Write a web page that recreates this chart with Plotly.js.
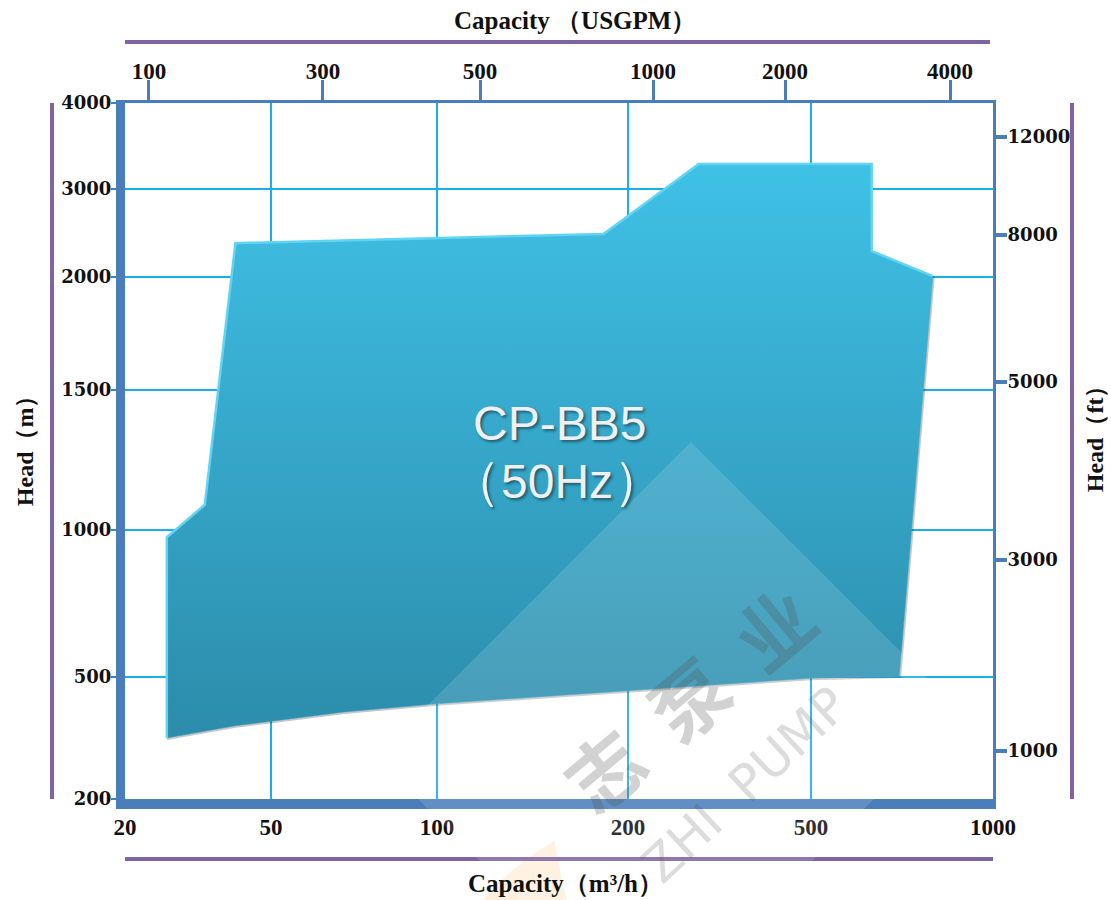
<!DOCTYPE html>
<html><head><meta charset="utf-8">
<script src="https://cdn.plot.ly/plotly-3.0.1.min.js"></script>
<style>html,body{margin:0;padding:0;background:#fff;}#chart{width:1111px;height:900px;}</style>
</head><body><div id="chart"></div>
<script>
// Bottom axis: capacity (m3/h) and where each tick sits along the (non-uniform) axis, 0..1
const capTicks = [20, 50, 100, 200, 500, 1000];
const capTickPos = [0, 0.1682, 0.3594, 0.5795, 0.7903, 1];
// Left axis: head (m)
const headTicks = [200, 500, 1000, 1500, 2000, 3000, 4000];
const headTickPos = [0, 0.1753, 0.3865, 0.5876, 0.75, 0.8764, 1];
// Top axis: capacity (USGPM)
const usgpmTicks = [100, 300, 500, 1000, 2000, 4000];
const usgpmTickPos = [0.0276, 0.2281, 0.409, 0.6083, 0.7604, 0.9505];
// Right axis: head (ft)
const ftTicks = [1000, 3000, 5000, 8000, 12000];
const ftTickPos = [0.069, 0.3434, 0.5991, 0.8103, 0.9511];

// CP-BB5 (50Hz) operating envelope
const envCapacity = [26, 26, 33, 40, 183, 285, 630, 630, 795, 700, 500, 200, 100, 68, 40, 26];
const envHead     = [350, 975, 1090, 2385, 2490, 3290, 3290, 2295, 2010, 503, 497, 466, 434, 414, 380, 350];

function piecewise(v, ticks, pos, logInterp) {
  for (let i = 0; i < ticks.length - 1; i++) {
    if (v <= ticks[i + 1] || i === ticks.length - 2) {
      const t = logInterp ? Math.log(v / ticks[i]) / Math.log(ticks[i + 1] / ticks[i])
                          : (v - ticks[i]) / (ticks[i + 1] - ticks[i]);
      return pos[i] + t * (pos[i + 1] - pos[i]);
    }
  }
}
const fx = v => piecewise(v, capTicks, capTickPos, true);
const fy = v => piecewise(v, headTicks, headTickPos, false);

const X = envCapacity.map(fx);
const Y = envHead.map(fy);

const axisBlue = '#4a7ebb';
const gridCyan = '#18afea';
const purple = '#8064a2';

const traces = [
  // soft shadow along lower / right edges
  { x: X.slice(8), y: Y.slice(8), mode: 'lines', line: { color: 'rgba(0,0,0,0.22)', width: 4 }, hoverinfo: 'skip' },
  { x: X, y: Y, mode: 'lines', fill: 'toself',
    fillgradient: { type: 'vertical', colorscale: [[0, '#2c8cab'], [1, '#3fc1e6']] },
    line: { color: '#33a6c9', width: 0.5 }, hoverinfo: 'skip' },
  // light bevel on the upper edges
  { x: X.slice(0, 9), y: Y.slice(0, 9), mode: 'lines', line: { color: '#62d4f3', width: 2.5 }, hoverinfo: 'skip' },
  { x: [], y: [], xaxis: 'x2', yaxis: 'y2', mode: 'lines', hoverinfo: 'skip' }
];

const serifB = (size, fam) => ({ family: fam || 'Liberation Serif', size: size, color: '#111', weight: 'bold' });
const ann = (text, x, y, font, extra) => Object.assign({ text, x, y, xref: 'paper', yref: 'paper',
  xanchor: 'center', yanchor: 'middle', showarrow: false, font }, extra || {});

const layout = {
  width: 1111, height: 900,
  margin: { l: 125, r: 118, t: 103, b: 101 },
  paper_bgcolor: '#ffffff', plot_bgcolor: '#ffffff',
  showlegend: false,
  xaxis: {
    range: [0, 1], tickvals: capTicks.map(fx), ticktext: capTicks.map(String),
    showgrid: true, gridcolor: gridCyan, gridwidth: 2, zeroline: false,
    showline: true, linecolor: axisBlue, linewidth: 10, ticks: '',
    tickfont: serifB(23), ticklabelstandoff: -2, fixedrange: true
  },
  yaxis: {
    range: [0, 1], tickvals: headTicks.map(fy), ticktext: headTicks.map(String),
    showgrid: true, gridcolor: gridCyan, gridwidth: 2, zeroline: false,
    showline: true, linecolor: axisBlue, linewidth: 9,
    ticks: 'outside', ticklen: 5, tickwidth: 2, tickcolor: axisBlue,
    tickfont: serifB(18, 'DejaVu Serif'), ticklabelstandoff: -4, fixedrange: true
  },
  xaxis2: {
    overlaying: 'x', side: 'top', anchor: 'y', range: [0, 1],
    tickvals: usgpmTickPos, ticktext: usgpmTicks.map(String),
    showgrid: false, zeroline: false, showline: true, linecolor: axisBlue, linewidth: 3,
    ticks: 'outside', ticklen: 20, tickwidth: 3, tickcolor: axisBlue,
    tickfont: serifB(23), ticklabelstandoff: -8, fixedrange: true
  },
  yaxis2: {
    overlaying: 'y', side: 'right', anchor: 'x', range: [0, 1],
    tickvals: ftTickPos, ticktext: ftTicks.map(String),
    showgrid: false, zeroline: false, showline: true, linecolor: axisBlue, linewidth: 3,
    ticks: 'outside', ticklen: 11, tickwidth: 4, tickcolor: axisBlue,
    tickfont: serifB(18, 'DejaVu Serif'), ticklabelstandoff: -3, fixedrange: true
  },
  shapes: [
    // purple frame bars
    { type: 'line', xref: 'paper', yref: 'paper', x0: 0, x1: 0.9965, y0: 1.0876, y1: 1.0876, line: { color: purple, width: 4 } },
    { type: 'line', xref: 'paper', yref: 'paper', x0: 0, x1: 1, y0: -0.0862, y1: -0.0862, line: { color: purple, width: 4 } },
    { type: 'line', xref: 'paper', yref: 'paper', x0: -0.0841, x1: -0.0841, y0: 0, y1: 1, line: { color: purple, width: 4 } },
    { type: 'line', xref: 'paper', yref: 'paper', x0: 1.091, x1: 1.091, y0: 0, y1: 1, line: { color: purple, width: 4 } },
    // watermark flame
    { type: 'path', xref: 'paper', yref: 'paper', layer: 'below',
      path: 'M 0.495 -0.06 Q 0.44 -0.10 0.41 -0.15 L 0.51 -0.15 Q 0.50 -0.10 0.495 -0.06 Z',
      fillcolor: 'rgba(255,170,70,0.18)', line: { width: 0 } },
    // watermark tile
    { type: 'path', xref: 'paper', yref: 'paper', layer: 'above',
      path: 'M 0.652 0.513 L 0.9631 0.125 L 0.6002 -0.3276 L 0.2892 0.0603 Z',
      fillcolor: 'rgba(255,255,255,0.13)', line: { width: 0 } }
  ],
  annotations: [
    ann('Capacity （USGPM）', 0.518, 1.119, serifB(25)),
    ann('Capacity（m³/h）', 0.507, -0.1207, serifB(25)),
    ann('Head（m）', -0.115, 0.5086, serifB(24), { textangle: -90 }),
    ann('Head（ft）', 1.1175, 0.527, serifB(24), { textangle: -90 }),
    ann('CP-BB5', 0.5, 0.5402,
      { family: 'Liberation Sans', size: 48, color: '#f0f0f0', shadow: '2px 2px 3px rgba(0,0,0,0.45)' }),
    ann('<span style="font-size:52px">（</span>50Hz<span style="font-size:52px">）</span>', 0.4977, 0.4583,
      { family: 'Liberation Sans', size: 48, color: '#f0f0f0', shadow: '2px 2px 3px rgba(0,0,0,0.45)' }),
    ann('志  泵  业', 0.6486, 0.1466,
      { family: 'Noto Sans CJK SC', size: 76, color: 'rgba(80,80,80,0.26)', weight: 'bold' }, { textangle: -40 }),
    ann('ZHI  PUMP', 0.7143, 0.0202,
      { family: 'DejaVu Sans', size: 50, color: 'rgba(80,80,80,0.2)' }, { textangle: -43 })
  ]
};

Plotly.newPlot('chart', traces, layout, { displayModeBar: false, staticPlot: true });
</script>
</body></html>
